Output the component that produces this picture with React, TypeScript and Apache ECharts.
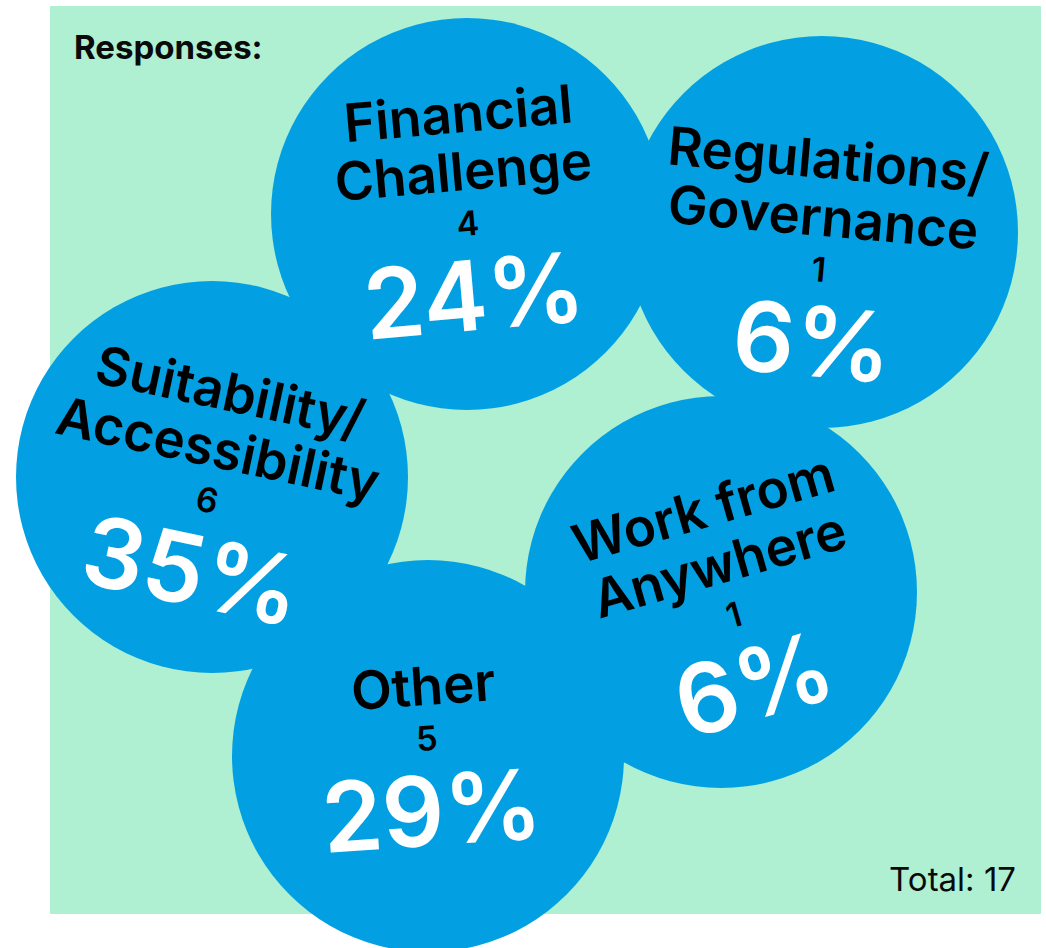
import React, { useEffect, useRef } from "react";
import * as echarts from "echarts";

// ---- data ----
const categories = [
  "Financial Challenge",
  "Regulations/Governance",
  "Suitability/Accessibility",
  "Work from Anywhere",
  "Other",
];
const categoryLines = [
  ["Financial", "Challenge"],
  ["Regulations/", "Governance"],
  ["Suitability/", "Accessibility"],
  ["Work from", "Anywhere"],
  ["Other"],
];
const counts = [4, 1, 6, 1, 5];
const total = 17;
// bubble layout (packed-bubble positions, axis units)
const bubbleX = [467, 822, 212, 721, 428];
const bubbleY = [214, 232, 477, 592, 756];

// label styling (tilt in degrees, nudge in px)
const LABEL_STYLE = [
  { rotate: 5, offset: [0, 0] },
  { rotate: -5, offset: [0, 28] },
  { rotate: -12, offset: [0, 14] },
  { rotate: 16, offset: [6, 16] },
  { rotate: 4, offset: [0, 2] },
];

export default function App() {
  const ref = useRef<HTMLDivElement>(null);

  useEffect(() => {
    if (!ref.current) return;
    const chart = echarts.init(ref.current, null, { renderer: "svg" });
    const font = "Inter, 'Noto Sans', sans-serif";

    const data = categories.map((name, i) => ({
      name,
      value: [bubbleX[i], bubbleY[i], counts[i]],
      label: { rotate: LABEL_STYLE[i].rotate, offset: LABEL_STYLE[i].offset },
    }));

    chart.setOption({
      animation: false,
      backgroundColor: "#ffffff",
      grid: { left: 0, top: 0, right: 0, bottom: 0, containLabel: false },
      xAxis: { type: "value", min: 0, max: 1046, show: false },
      yAxis: { type: "value", min: 0, max: 948, inverse: true, show: false },
      graphic: [
        {
          type: "rect",
          z: -10,
          silent: true,
          shape: { x: 50, y: 6, width: 991, height: 908 },
          style: { fill: "#AFF0D3" },
        },
        {
          type: "text",
          z: 10,
          left: 74,
          top: 30,
          style: {
            text: "Responses:",
            font: `700 33px ${font}`,
            fill: "#0a0a0a",
          },
        },
        {
          type: "text",
          z: 10,
          right: 30,
          top: 862,
          style: {
            text: `Total: ${total}`,
            font: `400 33px ${font}`,
            fill: "#0a0a0a",
          },
        },
      ],
      series: [
        {
          type: "scatter",
          symbol: "circle",
          symbolSize: 392,
          itemStyle: { color: "#02A0E2", opacity: 1 },
          emphasis: { disabled: true },
          data,
          label: {
            show: true,
            position: "inside",
            align: "center",
            verticalAlign: "middle",
            formatter: (p: any) => {
              const i = p.dataIndex;
              const pct = Math.round((counts[i] / total) * 100);
              const lines = categoryLines[i].map((l) => `{t|${l}}`).join("\n");
              return `${lines}\n{c|${counts[i]}}\n{p|${pct}%}`;
            },
            rich: {
              t: {
                fontFamily: font,
                fontSize: 53,
                fontWeight: 600,
                lineHeight: 58,
                color: "#000000",
                align: "center",
              },
              c: {
                fontFamily: font,
                fontSize: 34,
                fontWeight: 600,
                lineHeight: 46,
                color: "#000000",
                align: "center",
              },
              p: {
                fontFamily: font,
                fontSize: 97,
                fontWeight: 600,
                lineHeight: 98,
                color: "#ffffff",
                align: "center",
              },
            },
          },
        },
      ],
    });

    return () => chart.dispose();
  }, []);

  return (
    <div
      ref={ref}
      style={{ position: "fixed", left: 0, top: 0, width: 1046, height: 948 }}
    />
  );
}
